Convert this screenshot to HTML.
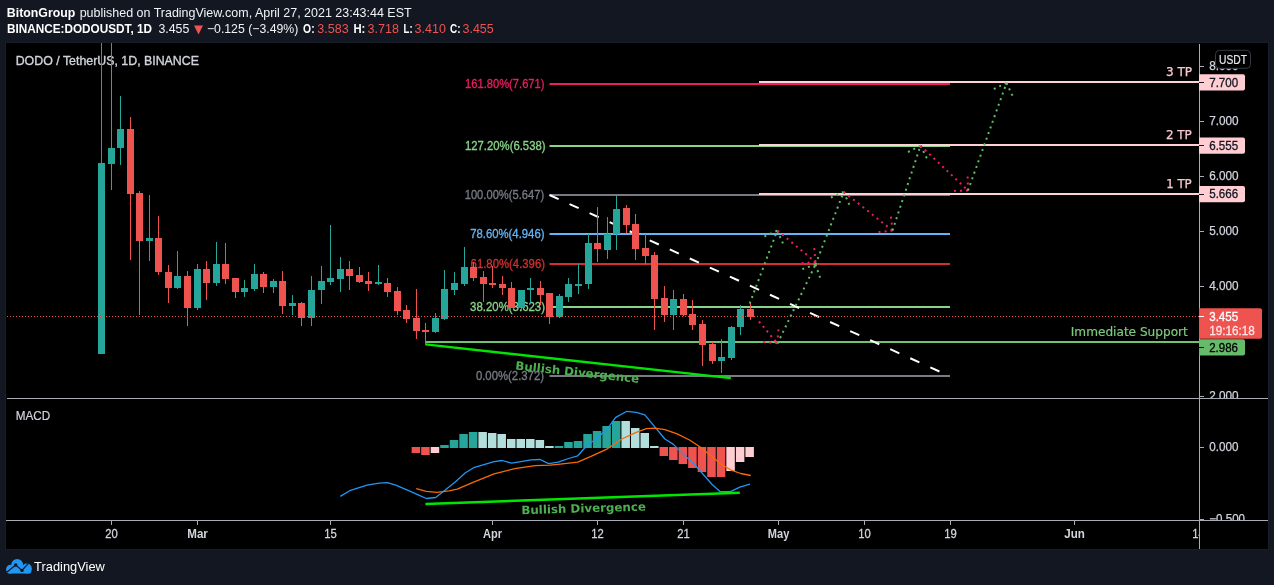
<!DOCTYPE html>
<html><head><meta charset="utf-8"><title>DODO / TetherUS chart</title>
<style>html,body{margin:0;padding:0;background:#131722;width:1274px;height:585px;overflow:hidden}svg{display:block;will-change:transform}</style>
</head><body>
<svg width="1274" height="585" viewBox="0 0 1274 585">
<rect x="0" y="0" width="1274" height="585" fill="#131722"/>
<rect x="5" y="42" width="1264" height="508" fill="#191d29"/>
<rect x="6" y="43" width="1262" height="506" fill="#000"/>
<text x="6.8" y="17.0" font-family="'Liberation Sans', sans-serif" font-size="12.40" font-weight="bold" fill="#ffffff" text-anchor="start" textLength="68.5" lengthAdjust="spacingAndGlyphs">BitonGroup</text>
<text x="79.7" y="17.0" font-family="'Liberation Sans', sans-serif" font-size="12.40" font-weight="normal" fill="#f0f2f6" text-anchor="start" textLength="331.9" lengthAdjust="spacingAndGlyphs">published on TradingView.com, April 27, 2021 23:43:44 EST</text>
<text x="7.0" y="33.3" font-family="'Liberation Sans', sans-serif" font-size="12.40" font-weight="bold" fill="#ffffff" text-anchor="start" textLength="145.0" lengthAdjust="spacingAndGlyphs">BINANCE:DODOUSDT, 1D</text>
<text x="158.4" y="33.3" font-family="'Liberation Sans', sans-serif" font-size="12.40" font-weight="normal" fill="#f0f2f6" text-anchor="start" textLength="30.9" lengthAdjust="spacingAndGlyphs">3.455</text>
<polygon points="194,25.5 203,25.5 198.5,34.6" fill="#ef5350"/>
<text x="206.9" y="33.3" font-family="'Liberation Sans', sans-serif" font-size="12.40" font-weight="normal" fill="#f0f2f6" text-anchor="start" textLength="91.4" lengthAdjust="spacingAndGlyphs">−0.125 (−3.49%)</text>
<text x="303.1" y="33.3" font-family="'Liberation Sans', sans-serif" font-size="12.40" font-weight="bold" fill="#ffffff" text-anchor="start" textLength="11.5" lengthAdjust="spacingAndGlyphs">O:</text>
<text x="317.3" y="33.3" font-family="'Liberation Sans', sans-serif" font-size="12.40" font-weight="normal" fill="#ef5350" text-anchor="start" textLength="31.4" lengthAdjust="spacingAndGlyphs">3.583</text>
<text x="353.4" y="33.3" font-family="'Liberation Sans', sans-serif" font-size="12.40" font-weight="bold" fill="#ffffff" text-anchor="start" textLength="11.9" lengthAdjust="spacingAndGlyphs">H:</text>
<text x="367.5" y="33.3" font-family="'Liberation Sans', sans-serif" font-size="12.40" font-weight="normal" fill="#ef5350" text-anchor="start" textLength="31.4" lengthAdjust="spacingAndGlyphs">3.718</text>
<text x="403.6" y="33.3" font-family="'Liberation Sans', sans-serif" font-size="12.40" font-weight="bold" fill="#ffffff" text-anchor="start" textLength="9.0" lengthAdjust="spacingAndGlyphs">L:</text>
<text x="414.6" y="33.3" font-family="'Liberation Sans', sans-serif" font-size="12.40" font-weight="normal" fill="#ef5350" text-anchor="start" textLength="31.4" lengthAdjust="spacingAndGlyphs">3.410</text>
<text x="450.0" y="33.3" font-family="'Liberation Sans', sans-serif" font-size="12.40" font-weight="bold" fill="#ffffff" text-anchor="start" textLength="10.5" lengthAdjust="spacingAndGlyphs">C:</text>
<text x="462.6" y="33.3" font-family="'Liberation Sans', sans-serif" font-size="12.40" font-weight="normal" fill="#ef5350" text-anchor="start" textLength="31.1" lengthAdjust="spacingAndGlyphs">3.455</text>
<text x="15.7" y="64.8" font-family="'Liberation Sans', sans-serif" font-size="12.80" font-weight="normal" fill="#d1d4dc" text-anchor="start" textLength="183.3" lengthAdjust="spacingAndGlyphs" stroke="#d1d4dc" stroke-width="0.35">DODO / TetherUS, 1D, BINANCE</text>
<text x="15.7" y="420.0" font-family="'Liberation Sans', sans-serif" font-size="12.90" font-weight="normal" fill="#d1d4dc" text-anchor="start" textLength="34.5" lengthAdjust="spacingAndGlyphs" stroke="#d1d4dc" stroke-width="0.2">MACD</text>
<rect x="549.5" y="83" width="400.5" height="2" fill="#e91e63"/>
<rect x="549.5" y="145" width="400.5" height="2" fill="#88d488"/>
<rect x="549.5" y="194" width="400.5" height="2" fill="#787b86"/>
<rect x="549.5" y="233" width="400.5" height="2" fill="#64b5f6"/>
<rect x="549.5" y="263" width="400.5" height="2" fill="#d32f2f"/>
<rect x="549.5" y="306" width="400.5" height="2" fill="#88d488"/>
<rect x="549.5" y="375" width="400.5" height="2" fill="#787b86"/>
<text x="465.0" y="88.0" font-family="'Liberation Sans', sans-serif" font-size="12.20" font-weight="normal" fill="#e91e63" text-anchor="start" textLength="79.5" lengthAdjust="spacingAndGlyphs" stroke="#e91e63" stroke-width="0.32">161.80%(7.671)</text>
<text x="465.0" y="150.0" font-family="'Liberation Sans', sans-serif" font-size="12.20" font-weight="normal" fill="#88d488" text-anchor="start" textLength="80.5" lengthAdjust="spacingAndGlyphs" stroke="#88d488" stroke-width="0.32">127.20%(6.538)</text>
<text x="464.7" y="199.0" font-family="'Liberation Sans', sans-serif" font-size="12.20" font-weight="normal" fill="#787b86" text-anchor="start" textLength="79.5" lengthAdjust="spacingAndGlyphs" stroke="#787b86" stroke-width="0.32">100.00%(5.647)</text>
<text x="470.2" y="238.0" font-family="'Liberation Sans', sans-serif" font-size="12.20" font-weight="normal" fill="#64b5f6" text-anchor="start" textLength="74.3" lengthAdjust="spacingAndGlyphs" stroke="#64b5f6" stroke-width="0.32">78.60%(4.946)</text>
<text x="470.6" y="268.0" font-family="'Liberation Sans', sans-serif" font-size="12.20" font-weight="normal" fill="#d32f2f" text-anchor="start" textLength="74.4" lengthAdjust="spacingAndGlyphs" stroke="#d32f2f" stroke-width="0.32">61.80%(4.396)</text>
<text x="470.1" y="311.0" font-family="'Liberation Sans', sans-serif" font-size="12.20" font-weight="normal" fill="#88d488" text-anchor="start" textLength="74.9" lengthAdjust="spacingAndGlyphs" stroke="#88d488" stroke-width="0.32">38.20%(3.623)</text>
<text x="475.9" y="380.0" font-family="'Liberation Sans', sans-serif" font-size="12.20" font-weight="normal" fill="#787b86" text-anchor="start" textLength="68.1" lengthAdjust="spacingAndGlyphs" stroke="#787b86" stroke-width="0.32">0.00%(2.372)</text>
<rect x="759" y="81" width="440" height="2" fill="#ffd1d7"/>
<rect x="759" y="144" width="440" height="2" fill="#ffd1d7"/>
<rect x="759" y="193" width="440" height="2" fill="#ffd1d7"/>
<rect x="425.5" y="341" width="773.5" height="2" fill="#6fc271"/>
<line x1="549.5" y1="195" x2="939.5" y2="371.5" stroke="#ffffff" stroke-width="2" stroke-dasharray="10 12"/>
<line x1="425.6" y1="344.4" x2="730.8" y2="378.1" stroke="#00e600" stroke-width="2.4"/>
<g transform="translate(515,369.5) rotate(6.18)">
<text x="0.0" y="0.0" font-family="'DejaVu Sans', 'Liberation Sans', sans-serif" font-size="11.60" font-weight="bold" fill="#4caf50" text-anchor="start" textLength="124.5" lengthAdjust="spacingAndGlyphs">Bullish Divergence</text>
</g>
<g shape-rendering="crispEdges">
<rect x="101" y="43" width="1" height="311" fill="#26a69a"/>
<rect x="98" y="163" width="7" height="191" fill="#26a69a"/>
<rect x="111" y="43" width="1" height="147" fill="#26a69a"/>
<rect x="108" y="148" width="7" height="16" fill="#26a69a"/>
<rect x="120" y="96" width="1" height="69" fill="#26a69a"/>
<rect x="117" y="129" width="7" height="19" fill="#26a69a"/>
<rect x="130" y="117" width="1" height="143" fill="#ef5350"/>
<rect x="127" y="129" width="7" height="65" fill="#ef5350"/>
<rect x="139" y="191" width="1" height="124" fill="#ef5350"/>
<rect x="136" y="193" width="7" height="48" fill="#ef5350"/>
<rect x="149" y="195" width="1" height="66" fill="#26a69a"/>
<rect x="146" y="238" width="7" height="3" fill="#26a69a"/>
<rect x="158" y="216" width="1" height="59" fill="#ef5350"/>
<rect x="155" y="238" width="7" height="34" fill="#ef5350"/>
<rect x="168" y="265" width="1" height="38" fill="#ef5350"/>
<rect x="165" y="272" width="7" height="16" fill="#ef5350"/>
<rect x="177" y="251" width="1" height="38" fill="#26a69a"/>
<rect x="174" y="276" width="7" height="12" fill="#26a69a"/>
<rect x="187" y="271" width="1" height="55" fill="#ef5350"/>
<rect x="184" y="276" width="7" height="32" fill="#ef5350"/>
<rect x="197" y="264" width="1" height="46" fill="#26a69a"/>
<rect x="194" y="269" width="7" height="39" fill="#26a69a"/>
<rect x="206" y="261" width="1" height="39" fill="#ef5350"/>
<rect x="203" y="269" width="7" height="14" fill="#ef5350"/>
<rect x="216" y="242" width="1" height="44" fill="#26a69a"/>
<rect x="213" y="264" width="7" height="19" fill="#26a69a"/>
<rect x="225" y="243" width="1" height="41" fill="#ef5350"/>
<rect x="222" y="264" width="7" height="15" fill="#ef5350"/>
<rect x="235" y="278" width="1" height="20" fill="#ef5350"/>
<rect x="232" y="278" width="7" height="14" fill="#ef5350"/>
<rect x="244" y="280" width="1" height="17" fill="#26a69a"/>
<rect x="241" y="288" width="7" height="4" fill="#26a69a"/>
<rect x="254" y="264" width="1" height="27" fill="#26a69a"/>
<rect x="251" y="274" width="7" height="15" fill="#26a69a"/>
<rect x="263" y="272" width="1" height="21" fill="#ef5350"/>
<rect x="260" y="274" width="7" height="13" fill="#ef5350"/>
<rect x="273" y="279" width="1" height="14" fill="#26a69a"/>
<rect x="270" y="281" width="7" height="6" fill="#26a69a"/>
<rect x="282" y="271" width="1" height="43" fill="#ef5350"/>
<rect x="279" y="281" width="7" height="25" fill="#ef5350"/>
<rect x="292" y="295" width="1" height="20" fill="#26a69a"/>
<rect x="289" y="303" width="7" height="3" fill="#26a69a"/>
<rect x="301" y="302" width="1" height="24" fill="#ef5350"/>
<rect x="298" y="303" width="7" height="15" fill="#ef5350"/>
<rect x="311" y="276" width="1" height="50" fill="#26a69a"/>
<rect x="308" y="290" width="7" height="28" fill="#26a69a"/>
<rect x="321" y="266" width="1" height="38" fill="#26a69a"/>
<rect x="318" y="281" width="7" height="9" fill="#26a69a"/>
<rect x="330" y="225" width="1" height="60" fill="#26a69a"/>
<rect x="327" y="278" width="7" height="4" fill="#26a69a"/>
<rect x="340" y="257" width="1" height="35" fill="#26a69a"/>
<rect x="337" y="269" width="7" height="10" fill="#26a69a"/>
<rect x="349" y="261" width="1" height="29" fill="#ef5350"/>
<rect x="346" y="269" width="7" height="7" fill="#ef5350"/>
<rect x="359" y="267" width="1" height="16" fill="#ef5350"/>
<rect x="356" y="275" width="7" height="7" fill="#ef5350"/>
<rect x="368" y="272" width="1" height="19" fill="#ef5350"/>
<rect x="365" y="281" width="7" height="3" fill="#ef5350"/>
<rect x="378" y="265" width="1" height="20" fill="#26a69a"/>
<rect x="375" y="282" width="7" height="2" fill="#26a69a"/>
<rect x="387" y="278" width="1" height="19" fill="#ef5350"/>
<rect x="384" y="283" width="7" height="9" fill="#ef5350"/>
<rect x="397" y="287" width="1" height="28" fill="#ef5350"/>
<rect x="394" y="291" width="7" height="20" fill="#ef5350"/>
<rect x="406" y="305" width="1" height="18" fill="#ef5350"/>
<rect x="403" y="310" width="7" height="9" fill="#ef5350"/>
<rect x="416" y="289" width="1" height="50" fill="#ef5350"/>
<rect x="413" y="318" width="7" height="13" fill="#ef5350"/>
<rect x="425" y="323" width="1" height="22" fill="#ef5350"/>
<rect x="422" y="330" width="7" height="2" fill="#ef5350"/>
<rect x="435" y="313" width="1" height="20" fill="#26a69a"/>
<rect x="432" y="318" width="7" height="14" fill="#26a69a"/>
<rect x="444" y="270" width="1" height="50" fill="#26a69a"/>
<rect x="441" y="289" width="7" height="30" fill="#26a69a"/>
<rect x="454" y="272" width="1" height="23" fill="#26a69a"/>
<rect x="451" y="283" width="7" height="7" fill="#26a69a"/>
<rect x="464" y="247" width="1" height="39" fill="#26a69a"/>
<rect x="461" y="267" width="7" height="17" fill="#26a69a"/>
<rect x="473" y="262" width="1" height="19" fill="#ef5350"/>
<rect x="470" y="267" width="7" height="11" fill="#ef5350"/>
<rect x="483" y="271" width="1" height="31" fill="#ef5350"/>
<rect x="480" y="277" width="7" height="7" fill="#ef5350"/>
<rect x="492" y="266" width="1" height="22" fill="#ef5350"/>
<rect x="489" y="283" width="7" height="2" fill="#ef5350"/>
<rect x="502" y="276" width="1" height="19" fill="#ef5350"/>
<rect x="499" y="284" width="7" height="4" fill="#ef5350"/>
<rect x="511" y="282" width="1" height="26" fill="#ef5350"/>
<rect x="508" y="288" width="7" height="20" fill="#ef5350"/>
<rect x="521" y="290" width="1" height="21" fill="#26a69a"/>
<rect x="518" y="290" width="7" height="18" fill="#26a69a"/>
<rect x="530" y="278" width="1" height="26" fill="#26a69a"/>
<rect x="527" y="288" width="7" height="2" fill="#26a69a"/>
<rect x="540" y="281" width="1" height="24" fill="#ef5350"/>
<rect x="537" y="288" width="7" height="7" fill="#ef5350"/>
<rect x="549" y="293" width="1" height="31" fill="#ef5350"/>
<rect x="546" y="293" width="7" height="24" fill="#ef5350"/>
<rect x="559" y="294" width="1" height="24" fill="#26a69a"/>
<rect x="556" y="296" width="7" height="21" fill="#26a69a"/>
<rect x="568" y="278" width="1" height="24" fill="#26a69a"/>
<rect x="565" y="284" width="7" height="13" fill="#26a69a"/>
<rect x="578" y="264" width="1" height="30" fill="#26a69a"/>
<rect x="575" y="284" width="7" height="2" fill="#26a69a"/>
<rect x="588" y="234" width="1" height="55" fill="#26a69a"/>
<rect x="585" y="243" width="7" height="41" fill="#26a69a"/>
<rect x="597" y="207" width="1" height="55" fill="#ef5350"/>
<rect x="594" y="243" width="7" height="6" fill="#ef5350"/>
<rect x="607" y="217" width="1" height="42" fill="#26a69a"/>
<rect x="604" y="234" width="7" height="16" fill="#26a69a"/>
<rect x="616" y="195" width="1" height="55" fill="#26a69a"/>
<rect x="613" y="209" width="7" height="25" fill="#26a69a"/>
<rect x="626" y="205" width="1" height="28" fill="#ef5350"/>
<rect x="623" y="208" width="7" height="17" fill="#ef5350"/>
<rect x="635" y="214" width="1" height="46" fill="#ef5350"/>
<rect x="632" y="224" width="7" height="25" fill="#ef5350"/>
<rect x="645" y="234" width="1" height="30" fill="#ef5350"/>
<rect x="642" y="248" width="7" height="8" fill="#ef5350"/>
<rect x="654" y="252" width="1" height="78" fill="#ef5350"/>
<rect x="651" y="255" width="7" height="44" fill="#ef5350"/>
<rect x="664" y="286" width="1" height="36" fill="#ef5350"/>
<rect x="661" y="298" width="7" height="17" fill="#ef5350"/>
<rect x="673" y="290" width="1" height="40" fill="#26a69a"/>
<rect x="670" y="299" width="7" height="16" fill="#26a69a"/>
<rect x="683" y="294" width="1" height="22" fill="#ef5350"/>
<rect x="680" y="299" width="7" height="16" fill="#ef5350"/>
<rect x="692" y="300" width="1" height="30" fill="#ef5350"/>
<rect x="689" y="314" width="7" height="11" fill="#ef5350"/>
<rect x="702" y="320" width="1" height="46" fill="#ef5350"/>
<rect x="699" y="324" width="7" height="21" fill="#ef5350"/>
<rect x="712" y="342" width="1" height="22" fill="#ef5350"/>
<rect x="709" y="344" width="7" height="17" fill="#ef5350"/>
<rect x="721" y="339" width="1" height="34" fill="#26a69a"/>
<rect x="718" y="357" width="7" height="4" fill="#26a69a"/>
<rect x="731" y="326" width="1" height="34" fill="#26a69a"/>
<rect x="728" y="327" width="7" height="31" fill="#26a69a"/>
<rect x="740" y="305" width="1" height="30" fill="#26a69a"/>
<rect x="737" y="309" width="7" height="18" fill="#26a69a"/>
<rect x="750" y="302" width="1" height="18" fill="#ef5350"/>
<rect x="747" y="309" width="7" height="8" fill="#ef5350"/>
</g>
<line x1="7" y1="316.5" x2="1199" y2="316.5" stroke="#ef5350" stroke-width="1" stroke-dasharray="1 2"/>
<line x1="749.7" y1="303.5" x2="777.2" y2="230.7" stroke="#5cbf60" stroke-width="2" stroke-dasharray="2 4"/>
<line x1="777.2" y1="230.7" x2="764.4" y2="236.5" stroke="#5cbf60" stroke-width="2" stroke-dasharray="2 4"/>
<line x1="777.2" y1="230.7" x2="783.0" y2="243.5" stroke="#5cbf60" stroke-width="2" stroke-dasharray="2 4"/>
<line x1="777.5" y1="230.7" x2="815.5" y2="262.0" stroke="#e91e63" stroke-width="2" stroke-dasharray="2 4"/>
<line x1="815.5" y1="262.0" x2="814.2" y2="248.1" stroke="#e91e63" stroke-width="2" stroke-dasharray="2 4"/>
<line x1="815.5" y1="262.0" x2="801.6" y2="263.3" stroke="#e91e63" stroke-width="2" stroke-dasharray="2 4"/>
<line x1="759.0" y1="321.5" x2="777.2" y2="343.3" stroke="#e91e63" stroke-width="2" stroke-dasharray="2 4"/>
<line x1="777.2" y1="343.3" x2="778.5" y2="329.4" stroke="#e91e63" stroke-width="2" stroke-dasharray="2 4"/>
<line x1="777.2" y1="343.3" x2="763.3" y2="342.0" stroke="#e91e63" stroke-width="2" stroke-dasharray="2 4"/>
<line x1="777.5" y1="343.5" x2="815.5" y2="264.5" stroke="#5cbf60" stroke-width="2" stroke-dasharray="2 4"/>
<line x1="815.5" y1="264.5" x2="802.3" y2="269.1" stroke="#5cbf60" stroke-width="2" stroke-dasharray="2 4"/>
<line x1="815.5" y1="264.5" x2="820.1" y2="277.7" stroke="#5cbf60" stroke-width="2" stroke-dasharray="2 4"/>
<line x1="815.5" y1="264.5" x2="843.7" y2="191.9" stroke="#5cbf60" stroke-width="2" stroke-dasharray="2 4"/>
<line x1="843.7" y1="191.9" x2="830.9" y2="197.5" stroke="#5cbf60" stroke-width="2" stroke-dasharray="2 4"/>
<line x1="843.7" y1="191.9" x2="849.3" y2="204.7" stroke="#5cbf60" stroke-width="2" stroke-dasharray="2 4"/>
<line x1="843.7" y1="191.9" x2="892.5" y2="230.5" stroke="#e91e63" stroke-width="2" stroke-dasharray="2 4"/>
<line x1="892.5" y1="230.5" x2="890.9" y2="216.6" stroke="#e91e63" stroke-width="2" stroke-dasharray="2 4"/>
<line x1="892.5" y1="230.5" x2="878.6" y2="232.1" stroke="#e91e63" stroke-width="2" stroke-dasharray="2 4"/>
<line x1="892.5" y1="230.5" x2="920.5" y2="145.7" stroke="#5cbf60" stroke-width="2" stroke-dasharray="2 4"/>
<line x1="920.5" y1="145.7" x2="908.0" y2="152.0" stroke="#5cbf60" stroke-width="2" stroke-dasharray="2 4"/>
<line x1="920.5" y1="145.7" x2="926.8" y2="158.2" stroke="#5cbf60" stroke-width="2" stroke-dasharray="2 4"/>
<line x1="920.5" y1="145.7" x2="968.0" y2="190.5" stroke="#e91e63" stroke-width="2" stroke-dasharray="2 4"/>
<line x1="968.0" y1="190.5" x2="967.6" y2="176.5" stroke="#e91e63" stroke-width="2" stroke-dasharray="2 4"/>
<line x1="968.0" y1="190.5" x2="954.0" y2="190.9" stroke="#e91e63" stroke-width="2" stroke-dasharray="2 4"/>
<line x1="968.0" y1="190.5" x2="1006.5" y2="83.0" stroke="#5cbf60" stroke-width="2" stroke-dasharray="2 4"/>
<line x1="1006.5" y1="83.0" x2="993.8" y2="89.0" stroke="#5cbf60" stroke-width="2" stroke-dasharray="2 4"/>
<line x1="1006.5" y1="83.0" x2="1012.5" y2="95.7" stroke="#5cbf60" stroke-width="2" stroke-dasharray="2 4"/>
<text x="1165.9" y="75.9" font-family="'DejaVu Sans', 'Liberation Sans', sans-serif" font-size="12.00" font-weight="normal" fill="#f8c8ce" text-anchor="start" textLength="26.1" lengthAdjust="spacingAndGlyphs" stroke="#f8c8ce" stroke-width="0.25">3 TP</text>
<text x="1166.0" y="139.0" font-family="'DejaVu Sans', 'Liberation Sans', sans-serif" font-size="12.00" font-weight="normal" fill="#f8c8ce" text-anchor="start" textLength="25.8" lengthAdjust="spacingAndGlyphs" stroke="#f8c8ce" stroke-width="0.25">2 TP</text>
<text x="1166.2" y="188.4" font-family="'DejaVu Sans', 'Liberation Sans', sans-serif" font-size="12.00" font-weight="normal" fill="#f8c8ce" text-anchor="start" textLength="25.5" lengthAdjust="spacingAndGlyphs" stroke="#f8c8ce" stroke-width="0.25">1 TP</text>
<text x="1070.8" y="335.8" font-family="'DejaVu Sans', 'Liberation Sans', sans-serif" font-size="11.70" font-weight="normal" fill="#7fc97f" text-anchor="start" textLength="117.0" lengthAdjust="spacingAndGlyphs" stroke="#7fc97f" stroke-width="0.2">Immediate Support</text>
<g>
<rect x="411.64" y="447" width="8.5" height="6" fill="#ef5350"/>
<rect x="421.17" y="447" width="8.5" height="8" fill="#ef5350"/>
<rect x="430.71" y="447" width="8.5" height="6" fill="#ffcdd2"/>
<rect x="440.25" y="445" width="8.5" height="3" fill="#26a69a"/>
<rect x="449.78" y="440" width="8.5" height="8" fill="#26a69a"/>
<rect x="459.32" y="434" width="8.5" height="14" fill="#26a69a"/>
<rect x="468.85" y="432" width="8.5" height="16" fill="#26a69a"/>
<rect x="478.39" y="432" width="8.5" height="16" fill="#b2dfdb"/>
<rect x="487.93" y="433" width="8.5" height="15" fill="#b2dfdb"/>
<rect x="497.46" y="434" width="8.5" height="14" fill="#b2dfdb"/>
<rect x="507.00" y="439" width="8.5" height="9" fill="#b2dfdb"/>
<rect x="516.53" y="439" width="8.5" height="9" fill="#b2dfdb"/>
<rect x="526.07" y="439" width="8.5" height="9" fill="#b2dfdb"/>
<rect x="535.61" y="440" width="8.5" height="8" fill="#b2dfdb"/>
<rect x="545.14" y="446" width="8.5" height="2" fill="#b2dfdb"/>
<rect x="554.68" y="446" width="8.5" height="2" fill="#26a69a"/>
<rect x="564.21" y="442" width="8.5" height="6" fill="#26a69a"/>
<rect x="573.75" y="441" width="8.5" height="7" fill="#26a69a"/>
<rect x="583.29" y="434" width="8.5" height="14" fill="#26a69a"/>
<rect x="592.82" y="431" width="8.5" height="17" fill="#26a69a"/>
<rect x="602.36" y="426" width="8.5" height="22" fill="#26a69a"/>
<rect x="611.89" y="421" width="8.5" height="27" fill="#26a69a"/>
<rect x="621.43" y="421" width="8.5" height="27" fill="#b2dfdb"/>
<rect x="630.97" y="428" width="8.5" height="20" fill="#b2dfdb"/>
<rect x="640.50" y="433" width="8.5" height="15" fill="#b2dfdb"/>
<rect x="650.04" y="446" width="8.5" height="2" fill="#b2dfdb"/>
<rect x="659.57" y="447" width="8.5" height="9" fill="#ef5350"/>
<rect x="669.11" y="447" width="8.5" height="13" fill="#ef5350"/>
<rect x="678.65" y="447" width="8.5" height="17" fill="#ef5350"/>
<rect x="688.18" y="447" width="8.5" height="21" fill="#ef5350"/>
<rect x="697.72" y="447" width="8.5" height="25" fill="#ef5350"/>
<rect x="707.25" y="447" width="8.5" height="30" fill="#ef5350"/>
<rect x="716.79" y="447" width="8.5" height="30" fill="#ef5350"/>
<rect x="726.33" y="447" width="8.5" height="24" fill="#ffcdd2"/>
<rect x="735.86" y="447" width="8.5" height="15" fill="#ffcdd2"/>
<rect x="745.40" y="447" width="8.5" height="10" fill="#ffcdd2"/>
</g>
<polyline points="340.3,496.4 350.5,490.3 367.0,485.1 379.2,483.1 387.4,482.7 395.7,485.1 408.0,490.3 418.2,494.8 426.4,498.5 435.7,497.5 444.9,490.3 455.2,482.1 465.4,472.8 473.6,467.7 483.9,464.6 494.1,461.6 502.3,460.5 511.6,463.2 520.8,461.6 531.1,459.9 540.3,459.5 548.5,463.6 558.2,462.2 568.5,458.5 577.7,455.8 586.9,445.5 597.2,438.0 607.4,428.7 615.7,417.4 626.9,411.3 636.2,412.3 644.8,414.8 654.6,426.7 664.9,439.0 673.1,444.1 683.4,454.4 693.6,463.6 701.8,472.8 712.1,484.5 720.3,491.7 730.5,491.7 739.8,487.2 750.0,484.1" fill="none" stroke="#2196f3" stroke-width="1.3" stroke-linejoin="round"/>
<polyline points="416.2,488.6 426.4,491.3 436.7,492.3 449.0,490.9 457.2,489.2 473.6,482.1 494.1,473.9 514.7,468.7 535.2,465.7 550.0,465.2 560.3,464.2 577.7,462.2 591.0,456.4 607.4,448.8 621.8,439.0 636.2,432.4 646.4,428.7 654.6,428.1 664.9,429.7 677.2,433.9 689.5,440.0 699.8,446.8 710.0,455.0 720.3,463.6 730.5,469.8 740.8,473.5 750.7,475.5" fill="none" stroke="#f86a08" stroke-width="1.3" stroke-linejoin="round"/>
<line x1="425.4" y1="504" x2="739.8" y2="492.7" stroke="#00e600" stroke-width="2.4"/>
<g transform="translate(521.4,514.2) rotate(-1.70)">
<text x="0.0" y="0.0" font-family="'DejaVu Sans', 'Liberation Sans', sans-serif" font-size="11.60" font-weight="bold" fill="#4caf50" text-anchor="start" textLength="124.6" lengthAdjust="spacingAndGlyphs">Bullish Divergence</text>
</g>
<g shape-rendering="crispEdges">
<rect x="1199" y="44" width="1" height="505" fill="#a9acb4"/>
<rect x="7" y="398" width="1261" height="1" fill="#a9acb4"/>
<rect x="6" y="520" width="1262" height="1" fill="#a9acb4"/>
<rect x="1199" y="66" width="5" height="1" fill="#a9acb4"/>
<rect x="1199" y="121" width="5" height="1" fill="#a9acb4"/>
<rect x="1199" y="176" width="5" height="1" fill="#a9acb4"/>
<rect x="1199" y="231" width="5" height="1" fill="#a9acb4"/>
<rect x="1199" y="286" width="5" height="1" fill="#a9acb4"/>
<rect x="1199" y="396" width="5" height="1" fill="#a9acb4"/>
<rect x="1199" y="447" width="5" height="1" fill="#a9acb4"/>
<rect x="1199" y="519" width="5" height="1" fill="#a9acb4"/>
<rect x="111" y="521" width="1" height="4" fill="#a9acb4"/>
<rect x="197" y="521" width="1" height="4" fill="#a9acb4"/>
<rect x="330" y="521" width="1" height="4" fill="#a9acb4"/>
<rect x="492" y="521" width="1" height="4" fill="#a9acb4"/>
<rect x="597" y="521" width="1" height="4" fill="#a9acb4"/>
<rect x="683" y="521" width="1" height="4" fill="#a9acb4"/>
<rect x="778" y="521" width="1" height="4" fill="#a9acb4"/>
<rect x="864" y="521" width="1" height="4" fill="#a9acb4"/>
<rect x="950" y="521" width="1" height="4" fill="#a9acb4"/>
<rect x="1074" y="521" width="1" height="4" fill="#a9acb4"/>
</g>
<defs><clipPath id="cpm"><rect x="1200" y="43" width="68" height="355"/></clipPath><clipPath id="cpd"><rect x="1200" y="399" width="68" height="121"/></clipPath><clipPath id="cpt"><rect x="6" y="521" width="1193" height="28"/></clipPath></defs>
<g clip-path="url(#cpm)">
<text x="1209.2" y="69.8" font-family="'Liberation Sans', sans-serif" font-size="12.10" font-weight="normal" fill="#d1d4dc" text-anchor="start" textLength="29.4" lengthAdjust="spacingAndGlyphs" stroke="#d1d4dc" stroke-width="0.25">8.000</text>
<text x="1209.2" y="124.7" font-family="'Liberation Sans', sans-serif" font-size="12.10" font-weight="normal" fill="#d1d4dc" text-anchor="start" textLength="29.4" lengthAdjust="spacingAndGlyphs" stroke="#d1d4dc" stroke-width="0.25">7.000</text>
<text x="1209.2" y="179.8" font-family="'Liberation Sans', sans-serif" font-size="12.10" font-weight="normal" fill="#d1d4dc" text-anchor="start" textLength="29.4" lengthAdjust="spacingAndGlyphs" stroke="#d1d4dc" stroke-width="0.25">6.000</text>
<text x="1209.2" y="234.9" font-family="'Liberation Sans', sans-serif" font-size="12.10" font-weight="normal" fill="#d1d4dc" text-anchor="start" textLength="29.4" lengthAdjust="spacingAndGlyphs" stroke="#d1d4dc" stroke-width="0.25">5.000</text>
<text x="1209.2" y="289.9" font-family="'Liberation Sans', sans-serif" font-size="12.10" font-weight="normal" fill="#d1d4dc" text-anchor="start" textLength="29.4" lengthAdjust="spacingAndGlyphs" stroke="#d1d4dc" stroke-width="0.25">4.000</text>
<text x="1209.2" y="400.0" font-family="'Liberation Sans', sans-serif" font-size="12.10" font-weight="normal" fill="#d1d4dc" text-anchor="start" textLength="29.4" lengthAdjust="spacingAndGlyphs" stroke="#d1d4dc" stroke-width="0.25">2.000</text>
</g>
<g clip-path="url(#cpd)">
<text x="1209.2" y="451.0" font-family="'Liberation Sans', sans-serif" font-size="12.10" font-weight="normal" fill="#d1d4dc" text-anchor="start" textLength="29.2" lengthAdjust="spacingAndGlyphs" stroke="#d1d4dc" stroke-width="0.25">0.000</text>
<text x="1209.3" y="523.1" font-family="'Liberation Sans', sans-serif" font-size="12.10" font-weight="normal" fill="#d1d4dc" text-anchor="start" textLength="35.7" lengthAdjust="spacingAndGlyphs" stroke="#d1d4dc" stroke-width="0.25">−0.500</text>
</g>
<g clip-path="url(#cpt)">
<text x="105.2" y="537.7" font-family="'Liberation Sans', sans-serif" font-size="12.00" font-weight="normal" fill="#d1d4dc" text-anchor="start" textLength="12.5" lengthAdjust="spacingAndGlyphs" stroke="#d1d4dc" stroke-width="0.3">20</text>
<text x="187.2" y="537.7" font-family="'Liberation Sans', sans-serif" font-size="12.00" font-weight="bold" fill="#d1d4dc" text-anchor="start" textLength="20.7" lengthAdjust="spacingAndGlyphs">Mar</text>
<text x="324.2" y="537.7" font-family="'Liberation Sans', sans-serif" font-size="12.00" font-weight="normal" fill="#d1d4dc" text-anchor="start" textLength="12.5" lengthAdjust="spacingAndGlyphs" stroke="#d1d4dc" stroke-width="0.3">15</text>
<text x="483.0" y="537.7" font-family="'Liberation Sans', sans-serif" font-size="12.00" font-weight="bold" fill="#d1d4dc" text-anchor="start" textLength="19.0" lengthAdjust="spacingAndGlyphs">Apr</text>
<text x="591.2" y="537.7" font-family="'Liberation Sans', sans-serif" font-size="12.00" font-weight="normal" fill="#d1d4dc" text-anchor="start" textLength="12.5" lengthAdjust="spacingAndGlyphs" stroke="#d1d4dc" stroke-width="0.3">12</text>
<text x="677.2" y="537.7" font-family="'Liberation Sans', sans-serif" font-size="12.00" font-weight="normal" fill="#d1d4dc" text-anchor="start" textLength="12.5" lengthAdjust="spacingAndGlyphs" stroke="#d1d4dc" stroke-width="0.3">21</text>
<text x="767.8" y="537.7" font-family="'Liberation Sans', sans-serif" font-size="12.00" font-weight="bold" fill="#d1d4dc" text-anchor="start" textLength="21.5" lengthAdjust="spacingAndGlyphs">May</text>
<text x="858.2" y="537.7" font-family="'Liberation Sans', sans-serif" font-size="12.00" font-weight="normal" fill="#d1d4dc" text-anchor="start" textLength="12.5" lengthAdjust="spacingAndGlyphs" stroke="#d1d4dc" stroke-width="0.3">10</text>
<text x="944.2" y="537.7" font-family="'Liberation Sans', sans-serif" font-size="12.00" font-weight="normal" fill="#d1d4dc" text-anchor="start" textLength="12.5" lengthAdjust="spacingAndGlyphs" stroke="#d1d4dc" stroke-width="0.3">19</text>
<text x="1064.2" y="537.7" font-family="'Liberation Sans', sans-serif" font-size="12.00" font-weight="bold" fill="#d1d4dc" text-anchor="start" textLength="20.6" lengthAdjust="spacingAndGlyphs">Jun</text>
<text x="1192.2" y="537.7" font-family="'Liberation Sans', sans-serif" font-size="12.00" font-weight="normal" fill="#d1d4dc" text-anchor="start" textLength="12.5" lengthAdjust="spacingAndGlyphs" stroke="#d1d4dc" stroke-width="0.3">14</text>
</g>
<path d="M1199,74.3 h44 a2,2 0 0 1 2,2 v12.299999999999997 a2,2 0 0 1 -2,2 h-44 z" fill="#ffcdd2"/>
<text x="1209.2" y="86.6" font-family="'Liberation Sans', sans-serif" font-size="12.10" font-weight="normal" fill="#131722" text-anchor="start" textLength="29.0" lengthAdjust="spacingAndGlyphs" stroke="#131722" stroke-width="0.3">7.700</text>
<path d="M1199,137.5 h44 a2,2 0 0 1 2,2 v12.300000000000011 a2,2 0 0 1 -2,2 h-44 z" fill="#ffcdd2"/>
<text x="1209.2" y="149.8" font-family="'Liberation Sans', sans-serif" font-size="12.10" font-weight="normal" fill="#131722" text-anchor="start" textLength="29.0" lengthAdjust="spacingAndGlyphs" stroke="#131722" stroke-width="0.3">6.555</text>
<path d="M1199,186.0 h44 a2,2 0 0 1 2,2 v12.300000000000011 a2,2 0 0 1 -2,2 h-44 z" fill="#ffcdd2"/>
<text x="1209.2" y="198.3" font-family="'Liberation Sans', sans-serif" font-size="12.10" font-weight="normal" fill="#131722" text-anchor="start" textLength="29.0" lengthAdjust="spacingAndGlyphs" stroke="#131722" stroke-width="0.3">5.666</text>
<path d="M1199,308.3 h61 a2,2 0 0 1 2,2 v26.5 a2,2 0 0 1 -2,2 h-61 z" fill="#ef5350"/>
<text x="1209.2" y="320.5" font-family="'Liberation Sans', sans-serif" font-size="12.10" font-weight="normal" fill="#ffffff" text-anchor="start" textLength="29.0" lengthAdjust="spacingAndGlyphs" stroke="#ffffff" stroke-width="0.3">3.455</text>
<text x="1209.2" y="334.6" font-family="'Liberation Sans', sans-serif" font-size="12.10" font-weight="normal" fill="#ffe6e6" text-anchor="start" textLength="45.6" lengthAdjust="spacingAndGlyphs" stroke="#ffe6e6" stroke-width="0.3">19:16:18</text>
<path d="M1199,339.2 h44 a2,2 0 0 1 2,2 v12.400000000000034 a2,2 0 0 1 -2,2 h-44 z" fill="#66bb6a"/>
<text x="1209.2" y="351.7" font-family="'Liberation Sans', sans-serif" font-size="12.10" font-weight="normal" fill="#000000" text-anchor="start" textLength="28.8" lengthAdjust="spacingAndGlyphs" stroke="#000000" stroke-width="0.3">2.986</text>
<g shape-rendering="crispEdges">
<rect x="1199" y="82" width="5" height="1" fill="#131722"/>
<rect x="1199" y="145" width="5" height="1" fill="#131722"/>
<rect x="1199" y="194" width="5" height="1" fill="#131722"/>
<rect x="1199" y="316" width="5" height="1" fill="#ffffff"/>
<rect x="1199" y="347" width="5" height="1" fill="#131722"/>
</g>
<rect x="1215.5" y="50.3" width="35" height="18" rx="4" ry="4" fill="#000" stroke="#363a45" stroke-width="1"/>
<text x="1219.0" y="64.0" font-family="'Liberation Sans', sans-serif" font-size="12.90" font-weight="normal" fill="#e8e9ed" text-anchor="start" textLength="28.0" lengthAdjust="spacingAndGlyphs" stroke="#e8e9ed" stroke-width="0.2">USDT</text>
<g fill="#2196f3"><circle cx="10.5" cy="569.2" r="4.4"/><circle cx="17.2" cy="565" r="6"/><circle cx="26.8" cy="568.6" r="5"/><rect x="7" y="566.5" width="24.3" height="7.1" rx="2.6"/></g>
<polyline points="7.0,572.1 15.7,565 22,570.4 28.4,563.3" fill="none" stroke="#131722" stroke-width="1.25"/>
<circle cx="15.7" cy="565" r="1.7" fill="#131722"/><circle cx="22" cy="570.4" r="1.7" fill="#131722"/>
<text x="34.1" y="571.0" font-family="'Liberation Sans', sans-serif" font-size="12.80" font-weight="normal" fill="#ffffff" text-anchor="start" textLength="70.8" lengthAdjust="spacingAndGlyphs">TradingView</text>
</svg>
</body></html>
